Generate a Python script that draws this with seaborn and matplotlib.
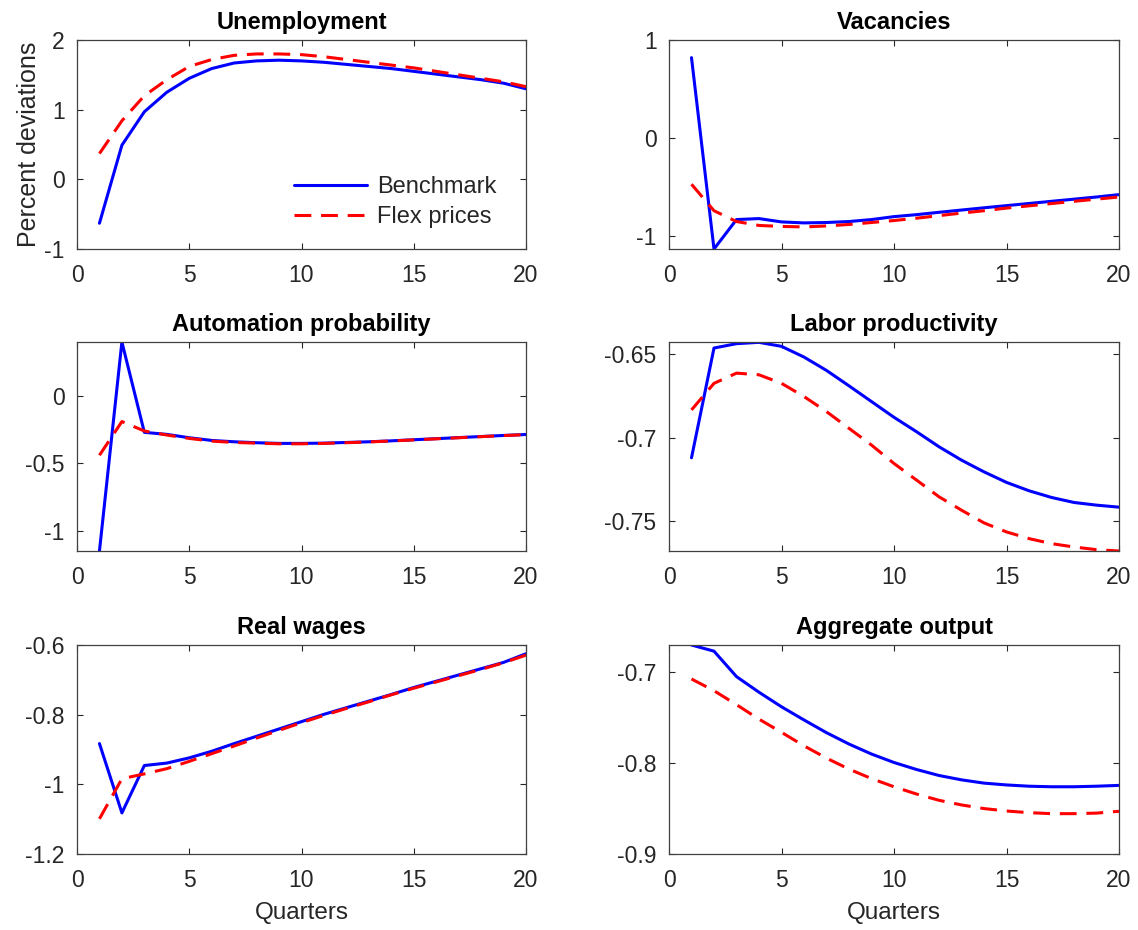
import matplotlib
matplotlib.use("Agg")
import matplotlib.pyplot as plt
from matplotlib.ticker import FuncFormatter
import pandas as pd
import seaborn as sns

quarters = list(range(1, 21))

unemp_bench = [-0.63, 0.49, 0.97, 1.25, 1.45, 1.59, 1.67, 1.70, 1.71, 1.70,
               1.68, 1.65, 1.62, 1.59, 1.55, 1.51, 1.47, 1.43, 1.38, 1.30]
unemp_flex = [0.37, 0.84, 1.20, 1.43, 1.62, 1.72, 1.78, 1.80, 1.80, 1.79,
              1.76, 1.72, 1.68, 1.64, 1.60, 1.55, 1.50, 1.45, 1.40, 1.33]

vac_bench = [0.82, -1.13, -0.83, -0.82, -0.854, -0.864, -0.86, -0.85, -0.83, -0.80,
             -0.78, -0.756, -0.733, -0.71, -0.688, -0.666, -0.644, -0.622, -0.600, -0.576]
vac_flex = [-0.47, -0.74, -0.85, -0.89, -0.90, -0.905, -0.895, -0.88, -0.86, -0.84,
            -0.816, -0.79, -0.764, -0.74, -0.713, -0.69, -0.667, -0.644, -0.622, -0.60]

auto_bench = [-1.15, 0.40, -0.27, -0.285, -0.31, -0.33, -0.34, -0.347, -0.352, -0.352,
              -0.35, -0.345, -0.34, -0.333, -0.325, -0.317, -0.309, -0.301, -0.293, -0.286]
auto_flex = [-0.44, -0.19, -0.26, -0.29, -0.315, -0.335, -0.345, -0.35, -0.355, -0.355,
             -0.352, -0.347, -0.341, -0.334, -0.326, -0.318, -0.310, -0.302, -0.294, -0.287]

prod_bench = [-0.712, -0.6464, -0.6438, -0.643, -0.6454, -0.6518, -0.6598, -0.669, -0.6784, -0.6878,
              -0.6964, -0.7054, -0.7134, -0.7204, -0.7267, -0.7317, -0.7357, -0.7387, -0.7403, -0.7415]
prod_flex = [-0.6834, -0.6675, -0.6614, -0.6624, -0.6675, -0.6754, -0.6844, -0.6944, -0.7044, -0.7154,
             -0.7253, -0.7353, -0.7433, -0.7509, -0.7563, -0.7603, -0.7633, -0.7653, -0.7669, -0.7677]

wage_bench = [-0.883, -1.082, -0.946, -0.939, -0.924, -0.905, -0.883, -0.862, -0.841, -0.820,
              -0.799, -0.780, -0.761, -0.742, -0.722, -0.704, -0.686, -0.668, -0.650, -0.625]
wage_flex = [-1.099, -0.984, -0.970, -0.955, -0.934, -0.912, -0.890, -0.867, -0.845, -0.823,
             -0.802, -0.782, -0.763, -0.743, -0.724, -0.706, -0.688, -0.670, -0.651, -0.629]

output_bench = [-0.670, -0.6768, -0.7048, -0.722, -0.738, -0.7525, -0.7665, -0.779, -0.790, -0.7993,
                -0.807, -0.8136, -0.8184, -0.822, -0.824, -0.8254, -0.826, -0.826, -0.8254, -0.8245]
output_flex = [-0.7074, -0.7203, -0.7357, -0.7516, -0.7661, -0.781, -0.7945, -0.8066, -0.817, -0.826,
               -0.834, -0.8409, -0.846, -0.850, -0.8527, -0.8545, -0.8556, -0.8556, -0.855, -0.853]

titles = ["Unemployment", "Vacancies", "Automation probability",
          "Labor productivity", "Real wages", "Aggregate output"]
series = [(unemp_bench, unemp_flex), (vac_bench, vac_flex), (auto_bench, auto_flex),
          (prod_bench, prod_flex), (wage_bench, wage_flex), (output_bench, output_flex)]
ylims = [(-1, 2), (-1.13, 1.0), (-1.15, 0.40), (-0.7677, -0.6428), (-1.2, -0.6), (-0.9, -0.670)]
yticks = [[-1, 0, 1, 2], [-1, 0, 1], [-1, -0.5, 0], [-0.75, -0.7, -0.65],
          [-1.2, -1, -0.8, -0.6], [-0.9, -0.8, -0.7]]
xticks = [0, 5, 10, 15, 20]
legend_labels = ["Benchmark", "Flex prices"]

sns.set_style("ticks")
plt.rcParams["font.family"] = ["Liberation Sans", "DejaVu Sans"]
plt.rcParams["axes.unicode_minus"] = False

fig = plt.figure(figsize=(11.38, 9.3), dpi=100)
W, H = 1138, 930
lefts = [77, 669]
widths = [449, 450]
tops = [40, 342, 645]
height = 209

axcol = "#262626"
for i, (title, (b, f)) in enumerate(zip(titles, series)):
    r, c = divmod(i, 2)
    ax = fig.add_axes([lefts[c] / W, 1 - (tops[r] + height) / H, widths[c] / W, height / H])
    df = pd.DataFrame({"q": quarters, "bench": b, "flex": f})
    sns.lineplot(data=df, x="q", y="bench", ax=ax, color="#0000ff", lw=2.2,
                 label=legend_labels[0] if i == 0 else None)
    sns.lineplot(data=df, x="q", y="flex", ax=ax, color="#ff0000", lw=2.2,
                 linestyle=(0, (5.5, 3.2)), label=legend_labels[1] if i == 0 else None)
    ax.set_xlim(0, 20)
    ax.set_ylim(*ylims[i])
    ax.set_xticks(xticks)
    ax.set_yticks(yticks[i])
    ax.yaxis.set_major_formatter(FuncFormatter(lambda v, p: f"{v:g}"))
    ax.tick_params(direction="in", top=True, right=True, length=4, width=0.8,
                   colors=axcol, labelsize=16.5)
    ax.tick_params(axis="x", pad=11)
    ax.tick_params(axis="y", pad=9)
    for s in ax.spines.values():
        s.set_visible(True)
        s.set_color("#404040")
        s.set_linewidth(0.9)
    ax.set_title(title, fontsize=17, fontweight="bold", pad=8, color="black")
    ax.set_xlabel("Quarters" if r == 2 else "", fontsize=17.5, color=axcol, labelpad=7)
    ax.set_ylabel("Percent deviations" if i == 0 else "", fontsize=18, color=axcol, labelpad=2)
    if i == 0:
        ax.legend(loc="lower right", frameon=False, fontsize=17, handlelength=3.1,
                  handletextpad=0.4, labelspacing=0.35, borderaxespad=0.3,
                  bbox_to_anchor=(0.97, 0.02))
    elif ax.get_legend() is not None:
        ax.get_legend().remove()

fig.savefig("out.png", dpi=100)
